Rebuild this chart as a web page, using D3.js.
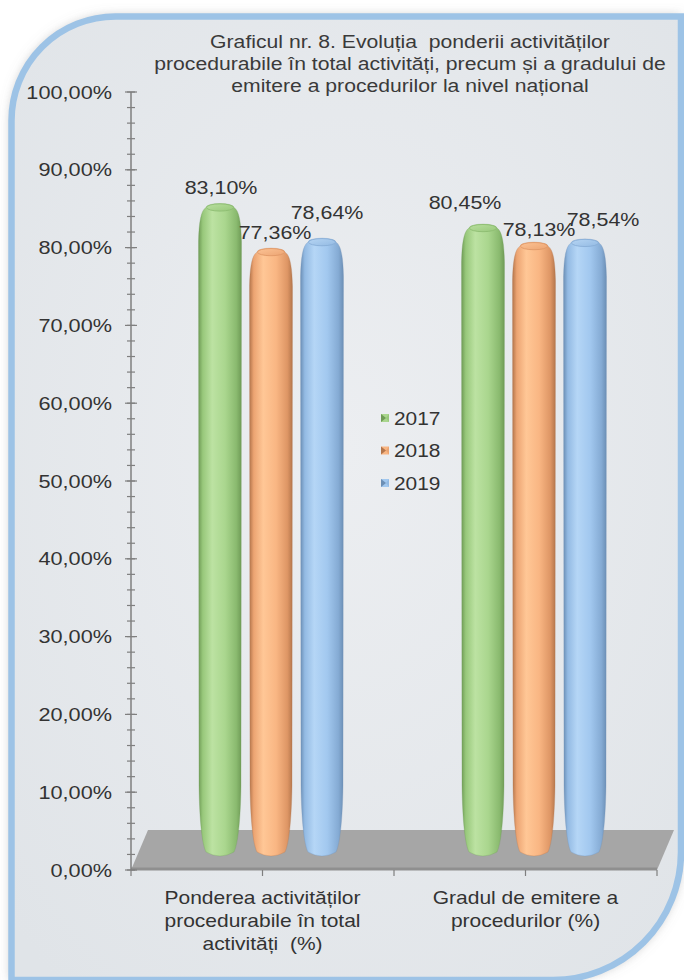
<!DOCTYPE html>
<html>
<head>
<meta charset="utf-8">
<script src="https://cdn.jsdelivr.net/npm/d3@7"></script>
<style>
  html, body { margin: 0; padding: 0; background: #ffffff; }
  svg { display: block; }
  text { font-family: "Liberation Sans", Arial, sans-serif; fill: #333333; }
</style>
</head>
<body>
<svg id="chart" width="684" height="980"></svg>
<script>
// ---- data ----
const categories = ["Ponderea activităților procedurabile în total activități (%)",
                    "Gradul de emitere a procedurilor (%)"];
const categoryLines = [["Ponderea activităților", "procedurabile în total", "activități  (%)"],
                       ["Gradul de emitere a", "procedurilor (%)"]];
const years = ["2017", "2018", "2019"];
const values2017 = [0.8310, 0.8045];
const values2018 = [0.7736, 0.7813];
const values2019 = [0.7864, 0.7854];
const yTickValues = [0, 0.1, 0.2, 0.3, 0.4, 0.5, 0.6, 0.7, 0.8, 0.9, 1.0];
const titleLines = ["Graficul nr. 8. Evoluția  ponderii activităților",
                    "procedurabile în total activități, precum și a gradului de",
                    "emitere a procedurilor la nivel național"];

const seriesValues = { "2017": values2017, "2018": values2018, "2019": values2019 };

// ---- layout ----
const plot = { left: 131, right: 657, top: 92, bottom: 870, depthX: 17, depthY: 40 };
const palette = {
  "2017": { dark: "#6f9b56", mid: "#98c87b", light: "#bce2a2", body: "#aad68e", edge: "#8aba6f", cap: "#b9df9f" },
  "2018": { dark: "#b4764c", mid: "#eca472", light: "#ffc796", body: "#f9b683", edge: "#de9665", cap: "#fcc395" },
  "2019": { dark: "#6c8fb5", mid: "#93bae3", light: "#b5d6f6", body: "#a2c8ef", edge: "#85abd4", cap: "#b6d5f3" }
};
// small per-label nudges so neighbouring value labels do not collide
const labelShift = {
  "2017": [[1, -16], [-18, -22]],
  "2018": [[4, -16], [5, -13]],
  "2019": [[5, -26], [18, -20]]
};

const comma = d3.formatLocale({ decimal: ",", thousands: ".", grouping: [3], currency: ["", ""] });
const fmtPct = comma.format(".2%");

const svg = d3.select("#chart");
const defs = svg.append("defs");

// helper: text stretched horizontally (factor sx) around its anchor point
function sText(parent, x, y, str, size, sx, anchor) {
  return parent.append("text")
    .attr("transform", `translate(${x},${y}) scale(${sx},1)`)
    .attr("text-anchor", anchor || "middle")
    .attr("font-size", size)
    .style("white-space", "pre")
    .text(str);
}

// ---- panel & background ----
const shadow = defs.append("filter").attr("id", "panelShadow")
  .attr("x", "-10%").attr("y", "-10%").attr("width", "120%").attr("height", "120%");
shadow.append("feDropShadow").attr("dx", 0).attr("dy", 0).attr("stdDeviation", 6)
  .attr("flood-color", "#808080").attr("flood-opacity", 0.55);

const panelFill = defs.append("radialGradient").attr("id", "panelFill")
  .attr("cx", "50%").attr("cy", "45%").attr("r", "70%");
panelFill.append("stop").attr("offset", "0%").attr("stop-color", "#eceef1");
panelFill.append("stop").attr("offset", "100%").attr("stop-color", "#e0e4e8");

const pL = 11.5, pT = 16.5, pR = 681, pB = 980, r1 = 104, r2 = 128;
const panelPath = `M${pL},${pB} L${pL},${pT + r1} A${r1},${r1} 0 0 1 ${pL + r1},${pT}
  L${pR},${pT} L${pR},${pB - r2} A${r2},${r2} 0 0 1 ${pR - r2},${pB} Z`;
svg.append("path").attr("d", panelPath).attr("fill", "url(#panelFill)")
  .attr("filter", "url(#panelShadow)");
svg.append("path").attr("d", panelPath).attr("fill", "none")
  .attr("stroke", "#9dc3e6").attr("stroke-width", 6.5);

// ---- title ----
const title = svg.append("g");
titleLines.forEach((t, i) => sText(title, 410, 48 + i * 22, t, 17.5, 1.21).style("fill", "#3a3a3a"));

// ---- scales ----
const x0 = d3.scaleBand().domain(categories).range([plot.left, plot.right]);
const xs = d3.scaleBand().domain(years).range([-76.5, 76.5]);
const y = d3.scaleLinear().domain([0, 1]).range([plot.bottom, plot.top]);

// ---- floor ----
const floor = svg.append("g");
const fb = y(0);
floor.append("path")
  .attr("d", `M${plot.left},${fb} L${plot.right},${fb} L${plot.right + plot.depthX},${fb - plot.depthY}
              L${plot.left + plot.depthX},${fb - plot.depthY} Z`)
  .attr("fill", "#a6a6a6");
floor.append("line").attr("x1", plot.left).attr("x2", plot.right)
  .attr("y1", fb - 1).attr("y2", fb - 1).attr("stroke", "#8f8f8f").attr("stroke-width", 3);

// ---- value axis ----
const axisG = svg.append("g").attr("stroke", "#7f7f7f");
axisG.append("line").attr("x1", plot.left).attr("x2", plot.left)
  .attr("y1", y(1)).attr("y2", y(0)).attr("stroke-width", 1.5);
const minorTicks = d3.range(0, 1.0001, 0.02);
axisG.selectAll("line.minor").data(minorTicks).join("line").attr("class", "minor")
  .attr("x1", plot.left - 4).attr("x2", plot.left + 4)
  .attr("y1", d => y(d)).attr("y2", d => y(d)).attr("stroke-width", 1.2);
axisG.selectAll("line.major").data(yTickValues).join("line").attr("class", "major")
  .attr("x1", plot.left - 6).attr("x2", plot.left + 6)
  .attr("y1", d => y(d)).attr("y2", d => y(d)).attr("stroke-width", 1.2);
const yLabels = svg.append("g");
yTickValues.forEach(v => sText(yLabels, 112, y(v) + 6.5, fmtPct(v), 17.5, 1.24, "end"));

// ---- category axis ----
const catTicks = [plot.left, ...categories.map(c => x0(c) + x0.bandwidth() / 2), ...categories.map(c => x0(c) + x0.bandwidth())];
axisG.selectAll("line.cat").data(catTicks).join("line").attr("class", "cat")
  .attr("x1", d => d).attr("x2", d => d).attr("y1", fb).attr("y2", fb + 6).attr("stroke-width", 1.2);
const xLabels = svg.append("g");
categories.forEach((c, i) => {
  const cx = x0(c) + x0.bandwidth() / 2;
  categoryLines[i].forEach((ln, j) => sText(xLabels, cx, 904 + j * 23, ln, 17.5, 1.2));
});

// ---- bars ----
years.forEach(yr => {
  const p = palette[yr];
  const g = defs.append("linearGradient").attr("id", "bar" + yr)
    .attr("x1", "0%").attr("x2", "100%").attr("y1", "0%").attr("y2", "0%");
  [[0, p.dark], [0.1, p.mid], [0.32, p.light], [0.62, p.body], [0.88, p.edge], [1, p.dark]]
    .forEach(([o, c]) => g.append("stop").attr("offset", o).attr("stop-color", c));
  const cg = defs.append("linearGradient").attr("id", "cap" + yr)
    .attr("x1", "0%").attr("x2", "100%").attr("y1", "0%").attr("y2", "100%");
  cg.append("stop").attr("offset", 0).attr("stop-color", p.cap);
  cg.append("stop").attr("offset", 1).attr("stop-color", p.mid);
});

function barPath(cx, ty, by) {
  return `M${cx - 14},${ty + 4}
    C${cx - 19},${ty + 7} ${cx - 21},${ty + 18} ${cx - 21.5},${ty + 38}
    L${cx - 21},${by - 70}
    C${cx - 20.5},${by - 36} ${cx - 18},${by - 12} ${cx - 14},${by - 4}
    Q${cx},${by + 4} ${cx + 14},${by - 4}
    C${cx + 18},${by - 12} ${cx + 20.5},${by - 36} ${cx + 21},${by - 70}
    L${cx + 21.5},${ty + 38}
    C${cx + 21},${ty + 18} ${cx + 19},${ty + 7} ${cx + 14},${ty + 4}
    A14,4 0 0 0 ${cx - 14},${ty + 4} Z`;
}

const bars = svg.append("g");
const labels = svg.append("g");
const barData = [];
categories.forEach((c, ci) => years.forEach(yr => barData.push({ c, ci, yr, v: seriesValues[yr][ci] })));
barData.forEach(d => {
  const cx = x0(d.c) + x0.bandwidth() / 2 + plot.depthX / 2 + xs(d.yr) + xs.bandwidth() / 2;
  const ty = y(d.v) - plot.depthY / 2;
  const by = y(0) - plot.depthY / 2 + 6;
  bars.append("path").attr("d", barPath(cx, ty, by)).attr("fill", `url(#bar${d.yr})`)
    .attr("stroke", palette[d.yr].dark).attr("stroke-opacity", 0.35).attr("stroke-width", 0.8);
  bars.append("ellipse").attr("cx", cx).attr("cy", ty + 4).attr("rx", 13.5).attr("ry", 3.6)
    .attr("fill", `url(#cap${d.yr})`).attr("stroke", palette[d.yr].edge).attr("stroke-width", 0.8);
  const [dx, dy] = labelShift[d.yr][d.ci];
  sText(labels, cx + dx, ty + dy + 7, fmtPct(d.v), 18.5, 1.16);
});

// ---- legend ----
const legend = svg.append("g");
years.forEach((yr, i) => {
  const ly = 418 + i * 32.5;
  const p = palette[yr];
  legend.append("rect").attr("x", 381).attr("y", ly - 4).attr("width", 8).attr("height", 8).attr("fill", p.body);
  legend.append("path").attr("d", `M381,${ly - 4} L386,${ly} L381,${ly + 4} Z`).attr("fill", p.dark);
  legend.append("path").attr("d", `M389,${ly - 4} L386,${ly} L389,${ly + 4} Z`).attr("fill", p.mid);
  sText(legend, 394, ly + 6.5, yr, 18, 1.16, "start");
});
</script>
</body>
</html>
